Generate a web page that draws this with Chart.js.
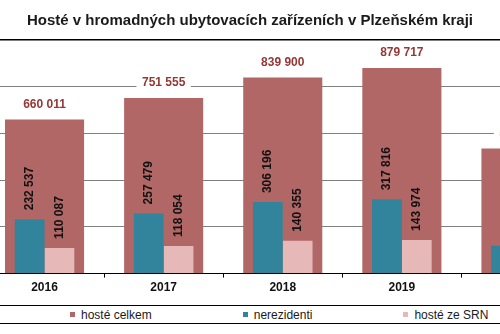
<!DOCTYPE html>
<html lang="cs">
<head>
<meta charset="utf-8">
<title>Hosté v hromadných ubytovacích zařízeních v Plzeňském kraji</title>
<script src="https://cdn.jsdelivr.net/npm/chart.js@4.4.1/dist/chart.umd.min.js"></script>
<style>
  html, body { margin: 0; padding: 0; background: #fff; }
  #wrap { position: relative; width: 500px; height: 334px; overflow: hidden; }
  #plot { position: absolute; left: 0; top: 0; width: 500px; height: 298px; }
  #legend {
    position: absolute; left: 0; top: 305px; width: 500px; height: 19px;
    box-sizing: border-box; border-top: 1px solid #000; border-bottom: 1px solid #000;
    display: flex; align-items: center; padding-left: 70px;
    font: 12px "Liberation Sans", Arial, sans-serif; color: #1a1a1a;
  }
  #legend .item { display: flex; align-items: center; margin-right: 91px; white-space: nowrap; }
  #legend .box { width: 5px; height: 5px; margin-right: 6px; }
</style>
</head>
<body>
<div id="wrap">
  <div id="plot"><canvas id="guests"></canvas></div>
  <div id="legend"></div>
</div>
<script>
const years = [2016, 2017, 2018, 2019, 2020];
const guestsTotal = [660011, 751555, 839900, 879717, 536000];
const nonResidents = [232537, 257479, 306196, 317816, 119000];
const guestsGermany = [110087, 118054, 140355, 143974, null];

Chart.defaults.font.family = '"Liberation Sans", Arial, sans-serif';
Chart.defaults.color = '#111';

// 660011 -> "660 011"
function fmt(v) {
  return String(v).replace(/\B(?=(\d{3})+(?!\d))/g, ' ');
}

// value labels: totals above the bar on a white patch, the others rotated
const valueLabels = {
  id: 'valueLabels',
  afterDatasetsDraw(chart) {
    const ctx = chart.ctx;
    chart.data.datasets.forEach((ds, di) => {
      const meta = chart.getDatasetMeta(di);
      if (meta.hidden) return;
      meta.data.forEach((bar, i) => {
        const v = ds.data[i];
        if (v == null) return;
        const text = fmt(v);
        ctx.save();
        ctx.font = 'bold 12px "Liberation Sans", Arial, sans-serif';
        if (ds.rotateLabel) {
          ctx.translate(bar.x, bar.y - 9);
          ctx.rotate(-Math.PI / 2);
          ctx.textAlign = 'left';
          ctx.textBaseline = 'middle';
          ctx.fillStyle = '#111';
          ctx.fillText(text, 0, 0);
        } else {
          const w = ctx.measureText(text).width + 11;
          ctx.fillStyle = '#fff';
          ctx.fillRect(bar.x - w / 2, bar.y - 22, w, 14);
          ctx.textAlign = 'center';
          ctx.textBaseline = 'middle';
          ctx.fillStyle = '#953735';
          ctx.fillText(text, bar.x, bar.y - 15);
        }
        ctx.restore();
      });
    });
  }
};

const chart = new Chart(document.getElementById('guests'), {
  type: 'bar',
  plugins: [valueLabels],
  data: {
    labels: years,
    datasets: [
      {
        // wide bar behind the other two, not part of the group
        label: 'hosté celkem',
        data: guestsTotal,
        backgroundColor: '#B26767',
        order: 1,
        grouped: false,
        categoryPercentage: 1,
        barPercentage: 0.664
      },
      {
        label: 'nerezidenti',
        data: nonResidents,
        backgroundColor: '#31849B',
        order: 0,
        categoryPercentage: 0.5,
        barPercentage: 1,
        rotateLabel: true
      },
      {
        label: 'hosté ze SRN',
        data: guestsGermany,
        backgroundColor: '#E6B9B8',
        order: 0,
        categoryPercentage: 0.5,
        barPercentage: 1,
        rotateLabel: true
      }
    ]
  },
  options: {
    responsive: true,
    maintainAspectRatio: false,
    animation: false,
    devicePixelRatio: 1,
    layout: { padding: 0 },
    plugins: {
      legend: { display: false },
      tooltip: { enabled: false },
      title: {
        display: true,
        text: 'Hosté v hromadných ubytovacích zařízeních v Plzeňském kraji',
        font: { size: 15, weight: 'bold' },
        color: '#1a1a1a',
        padding: { top: 12, bottom: 10 }
      }
    },
    scales: {
      x: {
        // linear year axis so the window can start and end mid-category
        type: 'linear',
        min: 2015.626,
        max: 2019.824,
        offset: false,
        ticks: {
          stepSize: 1,
          includeBounds: false,
          autoSkip: false,
          maxRotation: 0,
          callback: v => String(v),
          color: '#111',
          font: { size: 12, weight: 'bold' },
          padding: 3
        },
        grid: { offset: true, drawOnChartArea: false, drawTicks: true, tickLength: 4, color: '#000' },
        border: { display: true, color: '#000', width: 1 }
      },
      y: {
        min: 0,
        max: 1000000,
        ticks: { stepSize: 200000, display: false },
        grid: {
          drawTicks: false,
          color: c => c.tick.value === 1000000 ? '#000' : '#7f7f7f',
          lineWidth: c => c.tick.value === 1000000 ? 1.5 : 1
        },
        border: { display: false }
      }
    }
  }
});

// legend below the plot, built from the datasets
const legendEl = document.getElementById('legend');
chart.options.plugins.legend.labels.generateLabels(chart)
  .sort((a, b) => a.datasetIndex - b.datasetIndex)
  .forEach(item => {
    const el = document.createElement('span');
    el.className = 'item';
    const box = document.createElement('span');
    box.className = 'box';
    box.style.background = item.fillStyle;
    el.appendChild(box);
    el.appendChild(document.createTextNode(item.text));
    legendEl.appendChild(el);
  });
</script>
</body>
</html>
